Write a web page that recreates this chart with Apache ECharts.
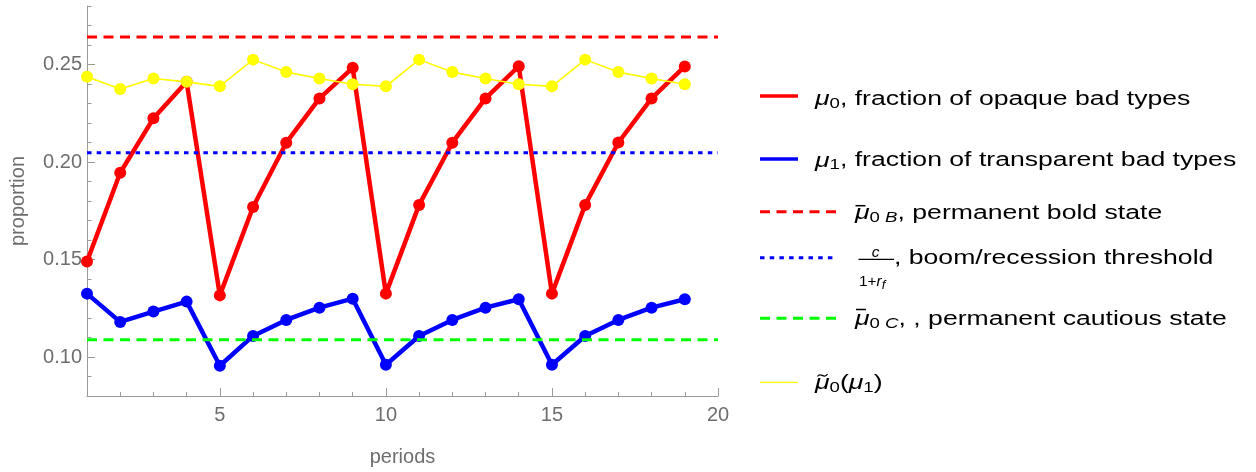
<!DOCTYPE html>
<html><head><meta charset="utf-8">
<script src="https://cdn.jsdelivr.net/npm/echarts@6/dist/echarts.min.js"></script>
<style>html,body{margin:0;padding:0;background:#fff}#c{width:1256px;height:472px}</style>
</head><body><div id="c"></div>
<script>
// ---- data ----
const periods = [1,2,3,4,5,6,7,8,9,10,11,12,13,14,15,16,17,18,19];
const mu0 = [0.149,0.1945,0.2224,0.2411,0.1316,0.1769,0.2099,0.2326,0.2483,0.1325,0.178,0.2099,0.2326,0.2491,0.1325,0.178,0.21,0.2326,0.249];
const mu1 = [0.1325,0.118,0.1233,0.1284,0.0955,0.1108,0.119,0.1253,0.1299,0.096,0.1108,0.119,0.1253,0.1296,0.096,0.1108,0.119,0.1253,0.1296];
const muTilde = [0.2437,0.2374,0.2428,0.2411,0.2388,0.2525,0.2461,0.2428,0.2399,0.2388,0.2525,0.2461,0.2428,0.2399,0.2388,0.2525,0.2461,0.2428,0.2399];
const boldState = 0.2641;
const threshold = 0.2048;
const cautious = 0.1089;
const xRange = [1, 20];
const yRange = [0.08, 0.28];
const xMajorTicks = [5,10,15,20];
const xMinorTicks = [2,3,4,6,7,8,9,11,12,13,14,16,17,18,19];
const yMajorTicks = [0.10,0.15,0.20,0.25];
const yMinorTicks = [0.09,0.11,0.12,0.13,0.14,0.16,0.17,0.18,0.19,0.21,0.22,0.23,0.24,0.26,0.27,0.28];

const FONT = '"Liberation Sans", Arial, sans-serif';
const AXIS = '#9a9a9a';
const LABEL = '#6e6e6e';
const SX = 1.33;

const pairs = arr => periods.map((p, i) => [p, arr[i]]);
const hline = v => [[xRange[0], v], [xRange[1], v]];

const rich = {
  t:  {fontSize:20, fontFamily:FONT, lineHeight:30, verticalAlign:'top', fill:'#000'},
  m:  {fontSize:20, fontFamily:FONT, fontStyle:'italic', lineHeight:30, verticalAlign:'top', fill:'#000'},
  s:  {fontSize:14, fontFamily:FONT, lineHeight:30, verticalAlign:'top', padding:[7.6,0,0,0], fill:'#000'},
  si: {fontSize:14, fontFamily:FONT, fontStyle:'italic', lineHeight:30, verticalAlign:'top', padding:[7.6,0,0,0], fill:'#000'}
};
function legText(x, baseline, text) {
  return {type:'text', x:x, y:baseline - 1.93, scaleX:SX, silent:true, z:100,
    style:{text:text, rich:rich, align:'left', verticalAlign:'middle', fontSize:20, fontFamily:FONT, fill:'#000'}};
}
function swatch(y, x2, color, w, dash) {
  return {type:'line', silent:true, z:100, shape:{x1:760, y1:y, x2:x2, y2:y},
    style:{stroke:color, lineWidth:w, lineDash:dash || null}};
}
function stroke(x1, y1, x2, y2, w) {
  return {type:'line', silent:true, z:100, shape:{x1, y1, x2, y2}, style:{stroke:'#000', lineWidth:w}};
}

const graphic = [
  swatch(96, 798, '#ff0000', 3.4),
  legText(815, 106.7, '{m|μ}{s|0}{t|, fraction of opaque bad types}'),
  swatch(159, 798, '#0000ff', 3.4),
  legText(815, 167.9, '{m|μ}{s|1}{t|, fraction of transparent bad types}'),
  swatch(211.7, 836, '#ff0000', 3, [10, 6.5]),
  legText(855, 220, '{m|μ}{s|0 }{si|B}{t|, permanent bold state}'),
  stroke(855.5, 205.7, 865.5, 205.7, 1.5),
  swatch(257.7, 836, '#0000ff', 3, [4.5, 5.2]),
  {type:'text', x:875.5, y:253, scaleX:1.1, silent:true, z:100,
    style:{text:'c', fontSize:14, fontStyle:'italic', fontFamily:FONT, align:'center', verticalAlign:'middle', fill:'#000'}},
  stroke(858.5, 259.3, 894, 259.3, 1.2),
  {type:'text', x:859, y:286, scaleX:1.1, silent:true, z:100,
    style:{text:'{d|1+}{di|r}{df|f}', align:'left', verticalAlign:'middle', fill:'#000',
      rich:{
        d:{fontSize:14, fontFamily:FONT, lineHeight:22, verticalAlign:'top', fill:'#000'},
        di:{fontSize:14, fontFamily:FONT, fontStyle:'italic', lineHeight:22, verticalAlign:'top', fill:'#000'},
        df:{fontSize:12, fontFamily:FONT, fontStyle:'italic', lineHeight:22, verticalAlign:'top', padding:[5,0,0,0], fill:'#000'}
      }}},
  legText(894, 265, '{t|, boom/recession threshold}'),
  swatch(318.3, 836, '#00ff00', 3, [10, 6.5]),
  legText(855, 326.7, '{m|μ}{s|0 }{si|C}{t|, , permanent cautious state}'),
  stroke(856, 309.5, 866, 309.5, 1.5),
  swatch(382.3, 798, '#ffff00', 1.3),
  legText(815, 390.5, '{m|μ}{s|0}{t|(}{m|μ}{s|1}{t|)}'),
  {type:'bezierCurve', silent:true, z:100,
    shape:{x1:817.5, y1:376.5, cpx1:820.5, cpy1:371, cpx2:824, cpy2:380, x2:827.5, y2:374},
    style:{stroke:'#000', lineWidth:1.3, fill:null}}
];

function xAxisDef(major) {
  return {
    type:'value', min:xRange[0], max:xRange[1], gridIndex:0, position:'bottom',
    name: major ? 'periods' : '', nameLocation:'middle', nameGap:51,
    nameTextStyle:{color:LABEL, fontSize:20, fontFamily:FONT},
    axisLine:{show:major, onZero:false, lineStyle:{color:AXIS, width:1}},
    axisTick:{show:true, inside:true, length: major ? 8 : 4, customValues: major ? xMajorTicks : xMinorTicks, lineStyle:{color:AXIS, width:1}},
    axisLabel:{show:major, margin:9, color:LABEL, fontSize:20, fontFamily:FONT, customValues:xMajorTicks},
    splitLine:{show:false}
  };
}
function yAxisDef(major) {
  return {
    type:'value', min:yRange[0], max:yRange[1], gridIndex:0, position:'left',
    name: major ? 'proportion' : '', nameLocation:'middle', nameRotate:90, nameGap:59,
    nameTextStyle:{color:LABEL, fontSize:20, fontFamily:FONT},
    axisLine:{show:major, onZero:false, lineStyle:{color:AXIS, width:1}},
    axisTick:{show:true, inside:true, length: major ? 8 : 4.5, customValues: major ? yMajorTicks : yMinorTicks, lineStyle:{color:AXIS, width:1}},
    axisLabel:{show:major, margin:5, color:LABEL, fontSize:20, fontFamily:FONT, customValues:yMajorTicks,
      formatter: v => v.toFixed(2)},
    splitLine:{show:false}
  };
}

const chart = echarts.init(document.getElementById('c'), null, {renderer:'canvas'});
chart.setOption({
  animation:false,
  backgroundColor:'#fff',
  grid:{left:86, right:538, top:6, bottom:75, containLabel:false},
  xAxis:[xAxisDef(true), xAxisDef(false)],
  yAxis:[yAxisDef(true), yAxisDef(false)],
  graphic: graphic,
  series:[
    {name:'mu0', type:'line', data:pairs(mu0), symbol:'circle', symbolSize:12, clip:true,
      itemStyle:{color:'#ff0000'}, lineStyle:{color:'#ff0000', width:4.5}, emphasis:{disabled:true}, z:2},
    {name:'mu1', type:'line', data:pairs(mu1), symbol:'circle', symbolSize:12, clip:true,
      itemStyle:{color:'#0000ff'}, lineStyle:{color:'#0000ff', width:4.5}, emphasis:{disabled:true}, z:2},
    {name:'muTilde', type:'line', data:pairs(muTilde), symbol:'circle', symbolSize:12, clip:true,
      itemStyle:{color:'#ffff00'}, lineStyle:{color:'#ffff00', width:1.6}, emphasis:{disabled:true}, z:3},
    {name:'bold', type:'line', data:hline(boldState), symbol:'none',
      lineStyle:{color:'#ff0000', width:3, type:[10, 6.5]}, emphasis:{disabled:true}, z:4},
    {name:'threshold', type:'line', data:hline(threshold), symbol:'none',
      lineStyle:{color:'#0000ff', width:3, type:[4.5, 5.2]}, emphasis:{disabled:true}, z:4},
    {name:'cautious', type:'line', data:hline(cautious), symbol:'none',
      lineStyle:{color:'#00ff00', width:3, type:[10, 6.5]}, emphasis:{disabled:true}, z:4}
  ]
});
</script>
</body></html>
